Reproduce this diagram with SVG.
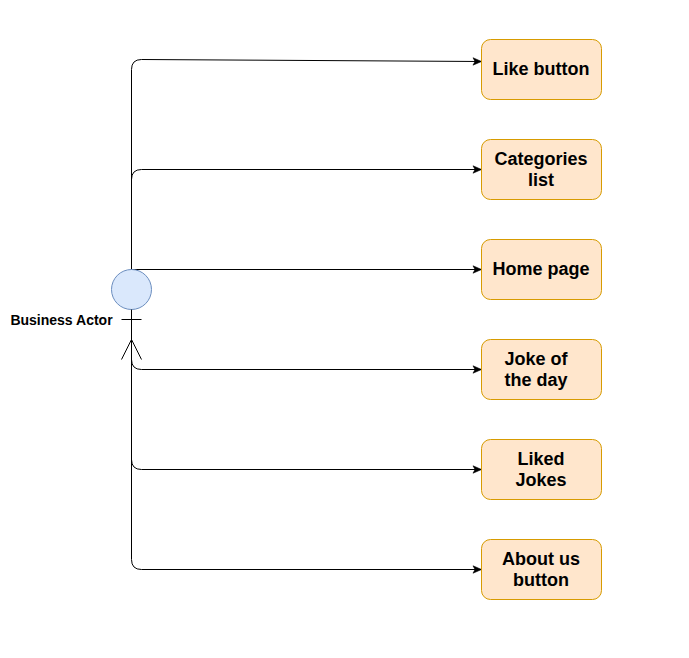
<svg xmlns="http://www.w3.org/2000/svg" width="689" height="658" viewBox="0 0 689 658">
<style>
.box{fill:#ffe6cc;stroke:#d79b00;stroke-width:1}
.t{font-family:"Liberation Sans",Arial,sans-serif;font-size:18px;font-weight:bold;fill:#000;text-anchor:middle}
.c{fill:none;stroke:#000;stroke-width:1;marker-end:url(#a)}
.s{fill:none;stroke:#000;stroke-width:1}
</style>
<defs><marker id="a" markerUnits="userSpaceOnUse" markerWidth="10" markerHeight="10" refX="9" refY="4" orient="auto" overflow="visible"><path d="M0.5 0.3L9 4L0.5 7.7L2.5 4Z" fill="#000" stroke="#000" stroke-width="0.6"/></marker></defs>
<rect width="689" height="658" fill="#fff"/>
<g id="connectors">
<path class="c" d="M131.500 269.500V69.500Q131.500 59.500 141.500 59.500L481.500 61.500"/>
<path class="c" d="M131.500 269.500V179.500Q131.500 169.500 141.500 169.500H481.500"/>
<path class="c" d="M131.500 269.500H481.500"/>
<path class="c" d="M131.500 339.500V359.500Q131.500 369.500 141.500 369.500H481.500"/>
<path class="c" d="M131.500 339.500V459.500Q131.500 469.500 141.500 469.500H481.500"/>
<path class="c" d="M131.500 339.500V559.500Q131.500 569.500 141.500 569.500H481.500"/>
</g>
<g id="actor">
<circle cx="131.500" cy="289.500" r="20" fill="#dae8fc" stroke="#6c8ebf"/>
<path class="s" d="M131.500 309.500V339.500M121.500 319.500H141.500M121.500 359.500L131.500 339.500L141.500 359.500"/>
<text x="61.500" y="325" font-family="'Liberation Sans',Arial,sans-serif" font-size="14px" font-weight="bold" text-anchor="middle" fill="#000">Business Actor</text>
</g>
<g id="like"><rect class="box" x="481.500" y="39.500" width="120" height="60" rx="9" ry="9"/><text class="t" x="541" y="75">Like button</text></g>
<g id="categories"><rect class="box" x="481.500" y="139.500" width="120" height="60" rx="9" ry="9"/><text class="t" x="541" y="165">Categories</text><text class="t" x="541" y="186">list</text></g>
<g id="home"><rect class="box" x="481.500" y="239.500" width="120" height="60" rx="9" ry="9"/><text class="t" x="541" y="275">Home page</text></g>
<g id="joke"><rect class="box" x="481.500" y="339.500" width="120" height="60" rx="9" ry="9"/><text class="t" x="536" y="365">Joke of</text><text class="t" x="536" y="386">the day</text></g>
<g id="liked"><rect class="box" x="481.500" y="439.500" width="120" height="60" rx="9" ry="9"/><text class="t" x="541" y="465">Liked</text><text class="t" x="541" y="486">Jokes</text></g>
<g id="about"><rect class="box" x="481.500" y="539.500" width="120" height="60" rx="9" ry="9"/><text class="t" x="541" y="565">About us</text><text class="t" x="541" y="586">button</text></g>
</svg>
